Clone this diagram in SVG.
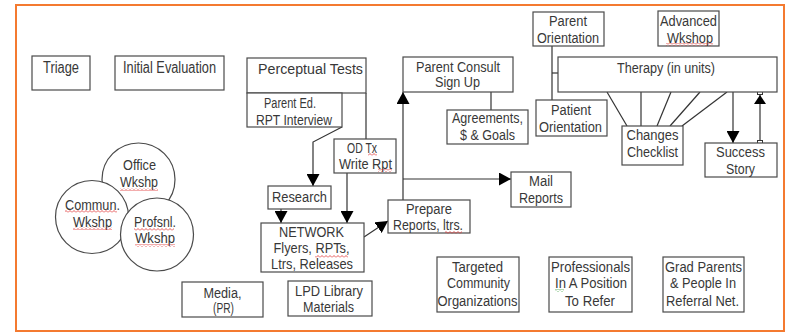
<svg xmlns="http://www.w3.org/2000/svg" width="789" height="334" viewBox="0 0 789 334">
<style>
.frame{fill:none;stroke:#f47a30;stroke-width:2}
.box{fill:#fff;stroke:#4a4a4a;stroke-width:1.2}
.circ{fill:#fff;stroke:#4a4a4a;stroke-width:1.2}
text{font-family:"Liberation Sans",Arial,sans-serif;font-size:14px;fill:#383838;text-anchor:middle}
.big{font-size:16px}
.ln{fill:none;stroke:#333;stroke-width:1.2}
.sq{fill:url(#wave);stroke:none}
.sqg{fill:url(#waveg);stroke:none}
</style>
<defs>
<marker id="arr" markerUnits="userSpaceOnUse" markerWidth="12" markerHeight="13" refX="12" refY="6.5" orient="auto">
<path d="M0,0 L12,6.5 L0,13 z" fill="#000"/>
</marker>
<pattern id="wave" width="4" height="3" patternUnits="userSpaceOnUse">
<path d="M0,2.5 L2,0.5 L4,2.5" fill="none" stroke="#e03030" stroke-width="0.8"/>
</pattern>
<pattern id="waveg" width="4" height="3" patternUnits="userSpaceOnUse">
<path d="M0,2.5 L2,0.5 L4,2.5" fill="none" stroke="#40a040" stroke-width="0.8"/>
</pattern>
</defs>
<rect width="789" height="334" fill="#fff"/>
<rect class="frame" x="16" y="5" width="768" height="326"/>

<g id="connectors">
<line class="ln" x1="366" y1="93" x2="366" y2="139"/>
<polyline class="ln" points="342,127 313,142 313,186" marker-end="url(#arr)"/>
<line class="ln" x1="281" y1="209" x2="281" y2="223" marker-end="url(#arr)"/>
<line class="ln" x1="347" y1="173" x2="347" y2="223" marker-end="url(#arr)"/>
<line class="ln" x1="364" y1="237" x2="388" y2="221" marker-end="url(#arr)"/>
<line class="ln" x1="403" y1="200" x2="403" y2="92" marker-end="url(#arr)"/>
<line class="ln" x1="403" y1="179" x2="511" y2="179" marker-end="url(#arr)"/>
<line class="ln" x1="491" y1="92" x2="491" y2="110"/>
<line class="ln" x1="552" y1="46" x2="552" y2="100"/>
<line class="ln" x1="552" y1="73" x2="558" y2="73"/>
<line class="ln" x1="607" y1="92" x2="627" y2="126"/>
<line class="ln" x1="641" y1="92" x2="641" y2="126"/>
<line class="ln" x1="671" y1="92" x2="657" y2="126"/>
<line class="ln" x1="700" y1="92" x2="670" y2="126"/>
<line class="ln" x1="727" y1="92" x2="682" y2="126"/>
<line class="ln" x1="733" y1="92" x2="733" y2="143" marker-end="url(#arr)"/>
<line class="ln" x1="760" y1="141" x2="760" y2="93"/>
<polygon points="760,95 766,104 754,104" fill="#000"/>
<rect x="757.5" y="89.5" width="5" height="5" fill="#fff" stroke="#333" stroke-width="1"/>
<rect x="757.5" y="140.5" width="5" height="5" fill="#fff" stroke="#333" stroke-width="1"/>
</g>

<g id="triage"><rect class="box" x="32" y="56" width="58" height="34"/><text class="big" x="61" y="73" textLength="36" lengthAdjust="spacingAndGlyphs">Triage</text></g>
<g id="initial-evaluation"><rect class="box" x="115" y="56" width="109" height="34"/><text class="big" x="169.5" y="73" textLength="93" lengthAdjust="spacingAndGlyphs">Initial Evaluation</text></g>
<g id="perceptual-tests"><rect class="box" x="247" y="58" width="119" height="35"/><text x="310.5" y="74" textLength="105" lengthAdjust="spacingAndGlyphs">Perceptual Tests</text></g>
<g id="parent-ed"><rect class="box" x="247" y="93" width="95" height="34"/><text x="290" y="108" textLength="52" lengthAdjust="spacingAndGlyphs">Parent Ed.</text><text x="294" y="125" textLength="76" lengthAdjust="spacingAndGlyphs">RPT Interview</text></g>
<g id="od-tx"><rect class="box" x="334" y="139" width="62" height="34"/><text x="362" y="153" textLength="30" lengthAdjust="spacingAndGlyphs">OD Tx</text><text x="365.5" y="169" textLength="53" lengthAdjust="spacingAndGlyphs">Write Rpt</text><rect class="sq" x="368" y="153" width="9" height="3"/><rect class="sq" x="378" y="169" width="14" height="3"/></g>
<g id="research"><rect class="box" x="268" y="186" width="63" height="23"/><text x="299.5" y="202" textLength="55" lengthAdjust="spacingAndGlyphs">Research</text></g>
<g id="network"><rect class="box" x="261" y="223" width="103" height="49"/><text x="311.5" y="237" textLength="65" lengthAdjust="spacingAndGlyphs">NETWORK</text><text x="311.5" y="253" textLength="76" lengthAdjust="spacingAndGlyphs">Flyers, RPTs,</text><text x="312" y="269" textLength="82" lengthAdjust="spacingAndGlyphs">Ltrs, Releases</text><rect class="sq" x="315" y="255" width="33" height="3"/></g>
<g id="prepare"><rect class="box" x="388" y="200" width="82" height="33"/><text x="429" y="214" textLength="46" lengthAdjust="spacingAndGlyphs">Prepare</text><text x="428" y="230" textLength="70" lengthAdjust="spacingAndGlyphs">Reports, ltrs.</text><rect class="sq" x="445" y="231" width="17" height="3"/></g>
<g id="mail-reports"><rect class="box" x="511" y="172" width="60" height="35"/><text x="541" y="186" textLength="24" lengthAdjust="spacingAndGlyphs">Mail</text><text x="541" y="203" textLength="44" lengthAdjust="spacingAndGlyphs">Reports</text></g>
<g id="parent-consult"><rect class="box" x="403" y="57" width="110" height="35"/><text x="458" y="72" textLength="84" lengthAdjust="spacingAndGlyphs">Parent Consult</text><text x="457.5" y="87" textLength="45" lengthAdjust="spacingAndGlyphs">Sign Up</text></g>
<g id="agreements"><rect class="box" x="447" y="110" width="81" height="34"/><text x="487.5" y="123" textLength="71" lengthAdjust="spacingAndGlyphs">Agreements,</text><text x="487.5" y="140" textLength="55" lengthAdjust="spacingAndGlyphs">$ &amp; Goals</text></g>
<g id="parent-orientation"><rect class="box" x="533" y="12" width="71" height="34"/><text x="568" y="26" textLength="38" lengthAdjust="spacingAndGlyphs">Parent</text><text x="568" y="43" textLength="62" lengthAdjust="spacingAndGlyphs">Orientation</text></g>
<g id="advanced-wkshop"><rect class="box" x="658" y="11" width="61" height="35"/><text x="688.5" y="26" textLength="57" lengthAdjust="spacingAndGlyphs">Advanced</text><text x="690" y="43" textLength="46" lengthAdjust="spacingAndGlyphs">Wkshop</text><rect class="sq" x="666" y="43" width="47" height="3"/></g>
<g id="therapy"><rect class="box" x="558" y="57" width="219" height="35"/><text x="666" y="73" textLength="98" lengthAdjust="spacingAndGlyphs">Therapy (in units)</text></g>
<g id="patient-orientation"><rect class="box" x="536" y="100" width="71" height="36"/><text x="571" y="115" textLength="40" lengthAdjust="spacingAndGlyphs">Patient</text><text x="570.5" y="132" textLength="63" lengthAdjust="spacingAndGlyphs">Orientation</text></g>
<g id="changes-checklist"><rect class="box" x="622" y="126" width="61" height="39"/><text x="652.5" y="140" textLength="52" lengthAdjust="spacingAndGlyphs">Changes</text><text x="652.5" y="157" textLength="51" lengthAdjust="spacingAndGlyphs">Checklist</text></g>
<g id="success-story"><rect class="box" x="705" y="143" width="72" height="34"/><text x="740.5" y="157" textLength="49" lengthAdjust="spacingAndGlyphs">Success</text><text x="740.5" y="174" textLength="29" lengthAdjust="spacingAndGlyphs">Story</text></g>

<g id="office-wkshp"><circle class="circ" cx="138.5" cy="179.5" r="36.5"/><text x="139.5" y="170" textLength="33" lengthAdjust="spacingAndGlyphs">Office</text><text x="139" y="187" textLength="38" lengthAdjust="spacingAndGlyphs">Wkshp</text><rect class="sq" x="120" y="188" width="38" height="3"/></g>
<g id="commun-wkshp"><circle class="circ" cx="92" cy="217" r="36.5"/><text x="92.5" y="210" textLength="55" lengthAdjust="spacingAndGlyphs">Commun.</text><text x="92.5" y="227" textLength="39" lengthAdjust="spacingAndGlyphs">Wkshp</text><rect class="sq" x="65" y="210" width="52" height="3"/><rect class="sq" x="73" y="227" width="39" height="3"/></g>
<g id="profsnl-wkshp"><circle class="circ" cx="157" cy="234.5" r="36.5"/><text x="155" y="227" textLength="42" lengthAdjust="spacingAndGlyphs">Profsnl.</text><text x="155" y="243" textLength="40" lengthAdjust="spacingAndGlyphs">Wkshp</text><rect class="sq" x="134" y="228" width="40" height="3"/><rect class="sq" x="135" y="244" width="40" height="3"/></g>

<g id="media"><rect class="box" x="182" y="282" width="81" height="35"/><text x="222.5" y="298" textLength="38" lengthAdjust="spacingAndGlyphs">Media,</text><text x="223.5" y="313" textLength="21" lengthAdjust="spacingAndGlyphs">(PR)</text></g>
<g id="lpd-library"><rect class="box" x="288" y="281" width="84" height="35"/><text x="329" y="296" textLength="68" lengthAdjust="spacingAndGlyphs">LPD Library</text><text x="328.5" y="312" textLength="51" lengthAdjust="spacingAndGlyphs">Materials</text></g>
<g id="targeted"><rect class="box" x="437" y="257" width="82" height="55"/><text x="477.5" y="272" textLength="51" lengthAdjust="spacingAndGlyphs">Targeted</text><text x="478.5" y="288" textLength="63" lengthAdjust="spacingAndGlyphs">Community</text><text x="477.5" y="306" textLength="80" lengthAdjust="spacingAndGlyphs">Organizations</text></g>
<g id="professionals"><rect class="box" x="549" y="257" width="83" height="55"/><text x="590.5" y="272" textLength="79" lengthAdjust="spacingAndGlyphs">Professionals</text><text x="591" y="288" textLength="72" lengthAdjust="spacingAndGlyphs">In A Position</text><text x="590" y="306" textLength="50" lengthAdjust="spacingAndGlyphs">To Refer</text><rect class="sqg" x="555" y="289" width="9" height="3"/></g>
<g id="grad-parents"><rect class="box" x="663" y="257" width="81" height="55"/><text x="703.5" y="272" textLength="77" lengthAdjust="spacingAndGlyphs">Grad Parents</text><text x="703" y="288" textLength="66" lengthAdjust="spacingAndGlyphs">&amp; People In</text><text x="702.5" y="306" textLength="73" lengthAdjust="spacingAndGlyphs">Referral Net.</text></g>
</svg>
